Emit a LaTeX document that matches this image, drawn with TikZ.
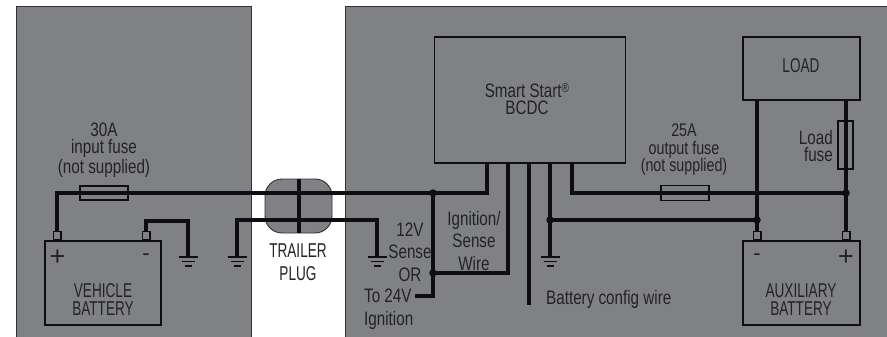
\documentclass[tikz,border=0pt]{standalone}
\usepackage{fontspec}
\setmainfont[FakeStretch=0.78]{Liberation Sans}
\newfontfamily\capsf[FakeStretch=0.68]{Liberation Sans}
\newfontfamily\plainf{Liberation Sans}
\definecolor{panel}{HTML}{808184}
\definecolor{ink}{HTML}{0E0E11}
\definecolor{txt}{HTML}{232327}
\tikzset{
  panelbox/.style={fill=panel,draw=ink!70!panel,line width=1pt},
  thick box/.style={draw=ink,line width=1.8pt},
  fuse/.style={draw=ink,line width=1.6pt},
  terminal/.style={draw=ink,line width=1.5pt},
  wire/.style={draw=ink,line width=3.1pt,line cap=butt,line join=miter},
  heavy/.style={draw=ink,line width=3.3pt,line join=miter},
  label/.style={text=txt,font=\fontsize{19.5}{17.5}\selectfont,align=center,inner sep=0pt},
  wide label/.style={text=txt,font=\fontsize{19.5}{22.5}\selectfont,align=center,inner sep=0pt},
  caps label/.style={text=txt,font=\capsf\fontsize{20}{18}\selectfont,align=center,inner sep=0pt},
  sign/.style={text=txt,font=\plainf\fontsize{22}{22}\selectfont,inner sep=0pt},
  plus sign/.style={text=txt,font=\plainf\fontsize{27}{27}\selectfont,inner sep=0pt},
  dotj/.style={circle,fill=ink,inner sep=0pt,minimum size=7.5pt},
  gnd/.style={draw=ink,line width=1.8pt},
}
\newcommand{\grnd}[2]{%
  \draw[gnd] (#1-9.5,#2) -- (#1+9.5,#2);
  \draw[gnd] (#1-6.5,#2+4.5) -- (#1+6.5,#2+4.5);
  \draw[gnd] (#1-3.5,#2+9) -- (#1+3.5,#2+9);
}
\begin{document}
\begin{tikzpicture}[x=1pt,y=-1pt]
\useasboundingbox (0,0) rectangle (887,337);
\fill[white] (0,0) rectangle (887,337);
\path[panelbox] (16,7) rectangle (251,338);
\path[panelbox] (345,7) rectangle (888,338);
% plug
\path[panelbox,line width=0.9pt,rounded corners=17pt] (265,179) rectangle (332,233);
% boxes
\node[thick box,minimum width=191pt,minimum height=126pt,inner sep=0pt,anchor=north west] (bcdc) at (433.5,36) {};
\node[thick box,minimum width=117pt,minimum height=63pt,inner sep=0pt,anchor=north west] (load) at (742,36) {};
\node[thick box,minimum width=116pt,minimum height=84pt,inner sep=0pt,anchor=north west] (vbat) at (44,240) {};
\node[thick box,minimum width=117pt,minimum height=84pt,inner sep=0pt,anchor=north west] (abat) at (742,240) {};
% terminals
\node[terminal,minimum width=7.5pt,minimum height=8pt,inner sep=0pt,anchor=south] (t1) at (57,240) {};
\node[terminal,minimum width=7.5pt,minimum height=8pt,inner sep=0pt,anchor=south] (t2) at (146,240) {};
\node[terminal,minimum width=7.5pt,minimum height=8pt,inner sep=0pt,anchor=south] (t3) at (757,240) {};
\node[terminal,minimum width=7.5pt,minimum height=8pt,inner sep=0pt,anchor=south] (t4) at (846,240) {};
% junctions
\coordinate (j1) at (433,193);
\coordinate (j2) at (433,273);
\coordinate (j3) at (550,220);
\coordinate (j4) at (757,220);
\coordinate (j5) at (846,193);
\coordinate (g1) at (188,257);
\coordinate (g2) at (237,257);
\coordinate (g3) at (377,257);
\coordinate (g4) at (550,257);
\coordinate (s24) at (415,296);
\coordinate (cfg) at (529,305);
% wires
\draw[heavy] (t1.north) -- (57,193) -- (j1);
\draw[wire] (j1) -- (487,193) -- (487,162);
\draw[heavy] (t2.north) -- (146,221) -- (188,221) -- (g1);
\draw[heavy] (g2) -- (237,220) -- (377,220) -- (g3);
\draw[heavy] (j1) -- (433,296) -- (s24);
\draw[wire] (j2) -- (508,273) -- (508,162);
\draw[wire] (529,162) -- (cfg);
\draw[wire] (550,162) -- (g4);
\draw[heavy] (j3) -- (j4);
\draw[wire] (572,162) -- (572,193) -- (j5);
\draw[heavy] (757,99) -- (t3.north);
\draw[wire] (846,99) -- (t4.north);
\draw[wire] (299,179) -- (299,233);
% fuses
\node[fuse,minimum width=48pt,minimum height=14pt,inner sep=0pt] (f1) at (104,193) {};
\node[fuse,minimum width=48pt,minimum height=15pt,inner sep=0pt] (f2) at (685,193) {};
\node[fuse,minimum width=15pt,minimum height=48pt,inner sep=0pt] (f3) at (845.5,145) {};
% dots
\foreach \p in {j1,j2,j3,j4,j5} \node[dotj] at (\p) {};
% grounds
\grnd{188}{257}\grnd{237}{257}\grnd{377}{257}\grnd{550}{257}
% text
\node[label] (a) at (104,150) {30A\\input fuse\\(not supplied)};
\node[label,font=\fontsize{18.3}{17.5}\selectfont] (b) at (684,150) {25A\\output fuse\\(not supplied)};
\node[label] (c) at (527,99) {Smart Start\raisebox{5pt}{\fontsize{13}{13}\selectfont®}\\BCDC};
\node[caps label] (d) at (801,66) {LOAD};
\node[label,align=right,anchor=east] (e) at (833,146) {Load\\fuse};
\node[caps label,font=\capsf\fontsize{20}{22.5}\selectfont] (f) at (298,262) {TRAILER\\PLUG};
\node[caps label] (g) at (103,300) {VEHICLE\\BATTERY};
\node[caps label] (h) at (801,300) {AUXILIARY\\BATTERY};
\node[wide label] (i) at (410,252) {12V\\Sense\\OR};
\node[wide label,align=left,anchor=west] (k) at (364,309) {To 24V\\Ignition};
\node[wide label] (m) at (474,241) {Ignition/\\Sense\\Wire};
\node[label,anchor=west] (n) at (546,299) {Battery config wire};
\node[plus sign] (p) at (57.5,258) {+};
\node[sign] (q) at (146,257) {-};
\node[sign] (r) at (757,257) {-};
\node[plus sign] (s) at (846,258) {+};
\end{tikzpicture}
\end{document}
